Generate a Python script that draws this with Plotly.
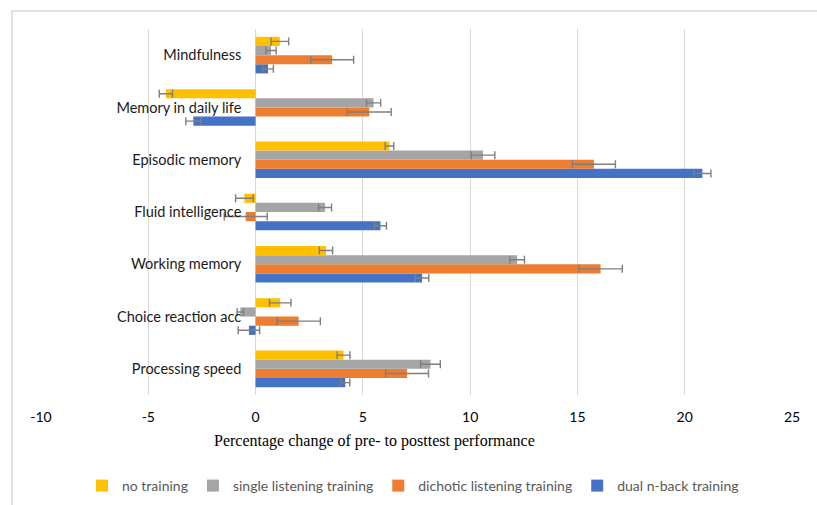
import plotly.graph_objects as go

# Outcome measures, listed bottom to top
measures = [
    "Processing speed",
    "Choice reaction acc",
    "Working memory",
    "Fluid intelligence",
    "Episodic memory",
    "Memory in daily life",
    "Mindfulness",
]

# Mean percentage change (pre- to posttest) per training group
no_training = [4.1, 1.15, 3.28, -0.52, 6.24, -4.18, 1.13]
single_listening = [8.15, -0.71, 12.19, 3.24, 10.6, 5.5, 0.72]
dichotic_listening = [7.06, 2.01, 16.08, -0.46, 15.77, 5.3, 3.57]
dual_nback = [4.18, -0.31, 7.76, 5.82, 20.82, -2.9, 0.58]

# Standard errors of the mean
no_training_err = [0.3, 0.5, 0.31, 0.41, 0.2, 0.31, 0.41]
single_listening_err = [0.46, 0.15, 0.34, 0.3, 0.55, 0.33, 0.24]
dichotic_listening_err = [1.0, 1.01, 1.01, 1.0, 1.0, 1.02, 1.0]
dual_nback_err = [0.21, 0.5, 0.31, 0.28, 0.4, 0.35, 0.25]

x_ticks = [-10, -5, 0, 5, 10, 15, 20, 25]

series = [
    ("dual n-back training", dual_nback, dual_nback_err, "#4472C4"),
    ("dichotic listening training", dichotic_listening, dichotic_listening_err, "#ED7D31"),
    ("single listening training", single_listening, single_listening_err, "#A5A5A5"),
    ("no training", no_training, no_training_err, "#FFC000"),
]

fig = go.Figure()
for name, vals, errs, color in series:
    fig.add_trace(go.Bar(
        y=measures,
        x=vals,
        name=name,
        orientation="h",
        marker=dict(color=color, line=dict(width=0)),
        error_x=dict(type="data", array=errs, visible=True,
                     color="#7F7F7F", thickness=1.4, width=4),
    ))

W, H = 817, 505
L, R, T, B = 41, 25, 29, 110
pw, ph = W - L - R, H - T - B


def px_x(p):
    return (p - L) / pw


def px_y(p):
    return (H - B - p) / ph


fig.update_layout(
    width=W,
    height=H,
    margin=dict(l=L, r=R, t=T, b=B, pad=0, autoexpand=False),
    paper_bgcolor="white",
    plot_bgcolor="white",
    barmode="group",
    bargap=0.3,
    bargroupgap=0.0,
    font=dict(family="Lato", size=14, color="#262626"),
    xaxis=dict(
        range=[-10, 25],
        tickvals=x_ticks,
        ticktext=[str(v) for v in x_ticks],
        showgrid=True,
        gridcolor="#D9D9D9",
        gridwidth=1.3,
        zeroline=True,
        zerolinecolor="#D9D9D9",
        zerolinewidth=1.3,
        showline=False,
        ticks="",
        ticklabelstandoff=12,
        automargin=False,
        tickfont=dict(family="Lato", size=14, color="#000000"),
    ),
    yaxis=dict(
        categoryorder="array",
        categoryarray=measures,
        range=[-0.5, 6.5],
        anchor="free",
        position=px_x(255.3),
        showgrid=False,
        showline=False,
        zeroline=False,
        ticks="",
        ticklabelstandoff=14,
        automargin=False,
        tickfont=dict(family="Lato", size=14.5, color="#1a1a1a"),
    ),
    showlegend=True,
    legend=dict(
        orientation="h",
        traceorder="reversed",
        x=px_x(82),
        xanchor="left",
        y=px_y(486),
        yanchor="middle",
        font=dict(family="Lato", size=14, color="#595959"),
        bgcolor="rgba(0,0,0,0)",
        itemclick=False,
    ),
    annotations=[
        dict(
            text="Percentage change of pre- to posttest performance",
            xref="paper", yref="paper",
            x=px_x(374), y=px_y(441),
            xanchor="center", yanchor="middle",
            showarrow=False,
            font=dict(family="Liberation Serif", size=16, color="#000000"),
        )
    ],
    shapes=[
        dict(
            type="rect", xref="paper", yref="paper",
            x0=px_x(12), x1=px_x(830), y0=px_y(520), y1=px_y(11),
            line=dict(color="#D9D9D9", width=1.5),
            fillcolor="rgba(0,0,0,0)",
            layer="below",
        )
    ],
)

fig.write_html("out.html")
